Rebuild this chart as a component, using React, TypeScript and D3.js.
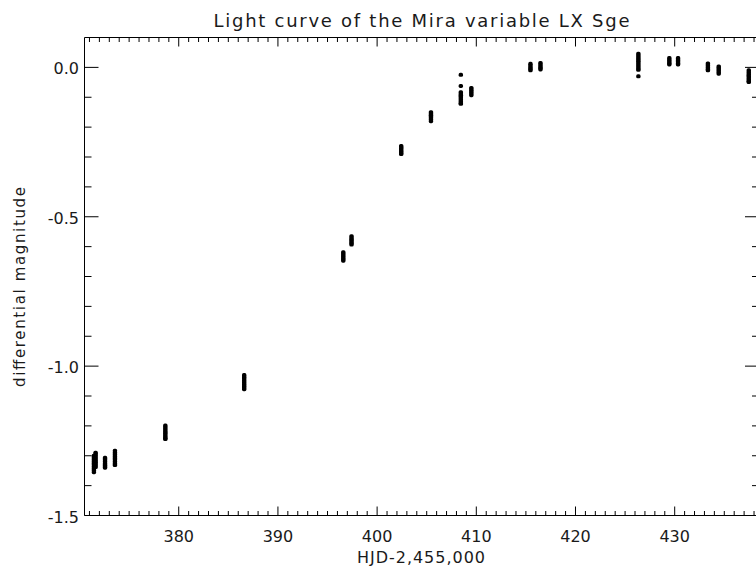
import React from "react";
import * as d3 from "d3";

// Observing nights (HJD - 2,455,000) and the differential magnitudes measured in each
const nightHJD = [
  371.45, 371.62, 372.57, 373.57, 378.65, 386.6, 396.59, 397.42, 402.43, 405.43,
  408.44, 409.5, 415.46, 416.47, 426.34, 429.46, 430.34, 433.35, 434.44, 437.47,
];
const nightMags: number[][] = [
  [-1.3, -1.306, -1.312, -1.318, -1.324, -1.33, -1.336, -1.342, -1.348, -1.355],
  [-1.29, -1.296, -1.302, -1.308, -1.314, -1.32, -1.326, -1.332, -1.338],
  [-1.307, -1.313, -1.319, -1.325, -1.331, -1.336, -1.34],
  [-1.283, -1.289, -1.295, -1.301, -1.307, -1.313, -1.319, -1.325, -1.331],
  [-1.199, -1.205, -1.211, -1.217, -1.223, -1.229, -1.235, -1.24, -1.244],
  [-1.03, -1.036, -1.042, -1.048, -1.054, -1.06, -1.066, -1.072, -1.077],
  [-0.619, -0.625, -0.631, -0.637, -0.642, -0.647],
  [-0.565, -0.571, -0.577, -0.583, -0.588, -0.593],
  [-0.263, -0.269, -0.275, -0.28, -0.285, -0.29],
  [-0.15, -0.156, -0.162, -0.168, -0.174, -0.18],
  [-0.025, -0.062, -0.083, -0.089, -0.095, -0.101, -0.107, -0.113, -0.119, -0.122],
  [-0.069, -0.075, -0.081, -0.087, -0.093],
  [0.012, 0.006, 0.0, -0.005, -0.01],
  [0.015, 0.009, 0.003, -0.002, -0.007],
  [0.046, 0.04, 0.034, 0.028, 0.022, 0.016, 0.01, 0.004, -0.002, -0.008, -0.03],
  [0.031, 0.025, 0.019, 0.014, 0.01],
  [0.031, 0.025, 0.019, 0.014, 0.01],
  [0.013, 0.007, 0.001, -0.005, -0.01],
  [0.003, -0.003, -0.009, -0.015, -0.021],
  [-0.01, -0.016, -0.022, -0.028, -0.034, -0.04, -0.045, -0.049],
];

const xMajorTicks = [380, 390, 400, 410, 420, 430];
const yMajorTicks = [0.0, -0.5, -1.0, -1.5];
const yTickLabels = ["0.0", "-0.5", "-1.0", "-1.5"];

const W = 756;
const H = 571;
const FONT = "'DejaVu Sans', sans-serif";
const INK = "#1a1a1a";

export default function App() {
  const x = d3.scaleLinear().domain([370.5, 438.5]).range([84.5, 759]);
  const y = d3.scaleLinear().domain([-1.5, 0.1]).range([515.5, 37.5]);
  const [x0, x1] = x.range();
  const [yb, yt] = y.range();

  const xMinor = d3.range(371, 439, 1).filter((v) => v % 10 !== 0);
  const yMinor = d3.range(-14, 1, 1).map((v) => v / 10).filter((v) => Math.round(v * 10) % 5 !== 0);

  const points = nightHJD.flatMap((hjd, i) => nightMags[i].map((m) => ({ hjd, m })));

  return (
    <svg
      width={W}
      height={H}
      style={{ position: "absolute", left: 0, top: 0, background: "#fff" }}
      fontFamily={FONT}
    >
      <rect x={0} y={0} width={W} height={H} fill="#fff" />
      {/* title */}
      <text x={421.5} y={27} fontSize={18} textAnchor="middle" textLength={416} lengthAdjust="spacing" fill={INK}>
        Light curve of the Mira variable LX Sge
      </text>

      {/* frame */}
      <g stroke="#000" strokeWidth={1} fill="none">
        <line x1={x0} x2={x1} y1={yb} y2={yb} />
        <line x1={x0} x2={x1} y1={yt} y2={yt} />
        <line x1={x0} x2={x0} y1={yt} y2={yb} />
        <line x1={x1} x2={x1} y1={yt} y2={yb} />
        {xMajorTicks.map((t) => (
          <g key={"xm" + t}>
            <line x1={x(t)} x2={x(t)} y1={yb} y2={yb - 9} />
            <line x1={x(t)} x2={x(t)} y1={yt} y2={yt + 9} />
          </g>
        ))}
        {xMinor.map((t) => (
          <g key={"xn" + t}>
            <line x1={x(t)} x2={x(t)} y1={yb} y2={yb - 4.5} />
            <line x1={x(t)} x2={x(t)} y1={yt} y2={yt + 4.5} />
          </g>
        ))}
        {yMajorTicks.map((t) => (
          <g key={"ym" + t}>
            <line x1={x0} x2={x0 + 14} y1={y(t)} y2={y(t)} />
            <line x1={x1} x2={x1 - 14} y1={y(t)} y2={y(t)} />
          </g>
        ))}
        {yMinor.map((t) => (
          <g key={"yn" + t}>
            <line x1={x0} x2={x0 + 7} y1={y(t)} y2={y(t)} />
            <line x1={x1} x2={x1 - 7} y1={y(t)} y2={y(t)} />
          </g>
        ))}
      </g>

      {/* tick labels */}
      <g fontSize={16} fill={INK}>
        {xMajorTicks.map((t) => (
          <text key={"xl" + t} x={x(t)} y={542} textAnchor="middle">
            {t}
          </text>
        ))}
        {yMajorTicks.map((t, i) => (
          <text key={"yl" + t} x={79} y={y(t) + 7} textAnchor="end">
            {yTickLabels[i]}
          </text>
        ))}
      </g>

      {/* axis titles */}
      <text x={421} y={563} fontSize={16} textAnchor="middle" textLength={128} lengthAdjust="spacing" fill={INK}>
        HJD-2,455,000
      </text>
      <text
        transform="translate(25,287) rotate(-90)"
        fontSize={15}
        textAnchor="middle"
        textLength={200}
        lengthAdjust="spacing"
        fill={INK}
      >
        differential magnitude
      </text>

      {/* observations */}
      <g fill="#000">
        {points.map((p, i) => (
          <rect key={i} x={x(p.hjd) - 2.2} y={y(p.m) - 2} width={4.4} height={4} rx={1.6} />
        ))}
      </g>
    </svg>
  );
}
